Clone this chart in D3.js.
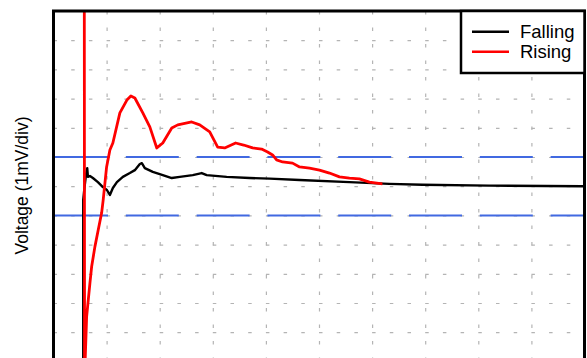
<!DOCTYPE html>
<html>
<head>
<meta charset="utf-8">
<script src="https://cdn.jsdelivr.net/npm/d3@7"></script>
<style>
  html, body { margin: 0; padding: 0; background: #fff; }
  svg { display: block; }
  text { font-family: "Liberation Sans", Arial, sans-serif; }
</style>
</head>
<body>
<svg id="chart" width="587" height="358"></svg>
<script>
// Time in divisions (0..10), voltage in mV (1 mV/div), 0 = settled level
const risingT = [0.58, 0.585, 0.598, 0.624, 0.686, 0.718, 0.78, 0.842, 0.906, 0.936, 1.0, 1.062, 1.118, 1.25, 1.382, 1.457, 1.532, 1.682, 1.814, 1.945, 2.058, 2.227, 2.34, 2.603, 2.754, 2.942, 3.092, 3.224, 3.43, 3.581, 3.75, 3.919, 4.032, 4.126, 4.201, 4.314, 4.502, 4.634, 4.821, 5.009, 5.197, 5.385, 5.573, 5.761, 5.949, 6.194];
const risingV = [6.6, -6.3, -5.88, -4.47, -3.32, -2.76, -2.07, -1.5, -0.92, -0.47, 0.66, 1.24, 1.48, 2.51, 2.95, 3.09, 3.02, 2.51, 2.03, 1.31, 1.48, 1.99, 2.1, 2.2, 2.1, 1.86, 1.34, 1.31, 1.48, 1.41, 1.31, 1.27, 1.17, 1.07, 0.9, 0.83, 0.79, 0.66, 0.62, 0.55, 0.45, 0.32, 0.28, 0.25, 0.14, 0.08];

const fallingT = [0.56, 0.56, 0.583, 0.611, 0.635, 0.648, 0.686, 0.742, 0.836, 0.93, 1.006, 1.062, 1.118, 1.194, 1.306, 1.438, 1.532, 1.626, 1.664, 1.72, 1.87, 2.058, 2.227, 2.378, 2.622, 2.791, 2.885, 3.261, 3.694, 4.07, 4.634, 5.573, 6.325, 6.946, 8.205, 9.953, 10.0];
const fallingV = [-6.3, -0.47, -0.06, 0.38, 0.62, 0.32, 0.35, 0.28, 0.14, -0.03, -0.13, -0.3, -0.06, 0.14, 0.32, 0.45, 0.55, 0.76, 0.79, 0.62, 0.49, 0.38, 0.28, 0.32, 0.38, 0.45, 0.38, 0.32, 0.28, 0.26, 0.21, 0.14, 0.08, 0.05, 0.02, 0.0, 0.0];

const limitLevels = [1, -1];
const seriesNames = ["Falling", "Rising"];
const seriesColors = ["#000000", "#ff0000"];
const yLabel = "Voltage (1mV/div)";

const svg = d3.select("#chart");
const pLeft = 53.5, pRight = 584.5, pTop = 11, pBottom = 361.4;
const W = pRight - pLeft, H = pBottom - pTop;

const x = d3.scaleLinear().domain([0, 10]).range([pLeft, pRight]);
const y = d3.scaleLinear().domain([-6, 6]).range([pBottom, pTop]);

svg.append("defs").append("clipPath").attr("id", "clip")
  .append("rect").attr("x", pLeft).attr("y", pTop).attr("width", W).attr("height", H);

// vertical grid
const gx = svg.append("g").attr("transform", `translate(0,${pTop})`)
  .call(d3.axisTop(x).ticks(10).tickSize(-H).tickFormat(""));
gx.select(".domain").remove();
gx.selectAll(".tick line")
  .attr("stroke", "#b4b4b4").attr("stroke-width", 1.2)
  .attr("stroke-dasharray", "3.5,13");

// horizontal grid
const gy = svg.append("g").attr("transform", `translate(${pLeft},0)`)
  .call(d3.axisLeft(y).ticks(12).tickSize(-W).tickFormat(""));
gy.select(".domain").remove();
gy.selectAll(".tick line")
  .attr("stroke", "#b4b4b4").attr("stroke-width", 1.2)
  .attr("stroke-dasharray", "3.5,14.2");

const plot = svg.append("g").attr("clip-path", "url(#clip)");

// limit lines
plot.selectAll("line.limit").data(limitLevels).enter().append("line")
  .attr("class", "limit")
  .attr("x1", pLeft + 1.5).attr("x2", pRight)
  .attr("y1", d => y(d)).attr("y2", d => y(d))
  .attr("stroke", "#4169e1").attr("stroke-width", 2)
  .attr("stroke-dasharray", "53,17.8");

const line = d3.line().x(d => x(d[0])).y(d => y(d[1]));
const falling = fallingT.map((t, i) => [t, fallingV[i]]);
const rising = risingT.map((t, i) => [t, risingV[i]]);

plot.append("path").datum(falling)
  .attr("d", line).attr("fill", "none")
  .attr("stroke", seriesColors[0]).attr("stroke-width", 2.4)
  .attr("stroke-linejoin", "round");
plot.append("path").datum(rising)
  .attr("d", line).attr("fill", "none")
  .attr("stroke", seriesColors[1]).attr("stroke-width", 2.8)
  .attr("stroke-linejoin", "round");

// frame
svg.append("rect").attr("x", pLeft).attr("y", pTop).attr("width", W).attr("height", H)
  .attr("fill", "none").attr("stroke", "#000").attr("stroke-width", 3);

// legend
const lg = svg.append("g");
lg.append("rect").attr("x", 461).attr("y", pTop).attr("width", pRight - 461).attr("height", 62)
  .attr("fill", "#fff").attr("stroke", "#000").attr("stroke-width", 2.5);
seriesNames.forEach((name, i) => {
  const yy = 31.7 + i * 20;
  lg.append("line").attr("x1", 472).attr("x2", 509).attr("y1", yy).attr("y2", yy)
    .attr("stroke", seriesColors[i]).attr("stroke-width", 2.5);
  lg.append("text").attr("x", 520).attr("y", yy + 6.5)
    .attr("font-size", "18.5px").attr("fill", "#000").text(name);
});

// y label
svg.append("text")
  .attr("transform", "translate(27.5,185.5) rotate(-90)")
  .attr("text-anchor", "middle").attr("font-size", "17.5px").attr("fill", "#000")
  .text(yLabel);
</script>
</body>
</html>
